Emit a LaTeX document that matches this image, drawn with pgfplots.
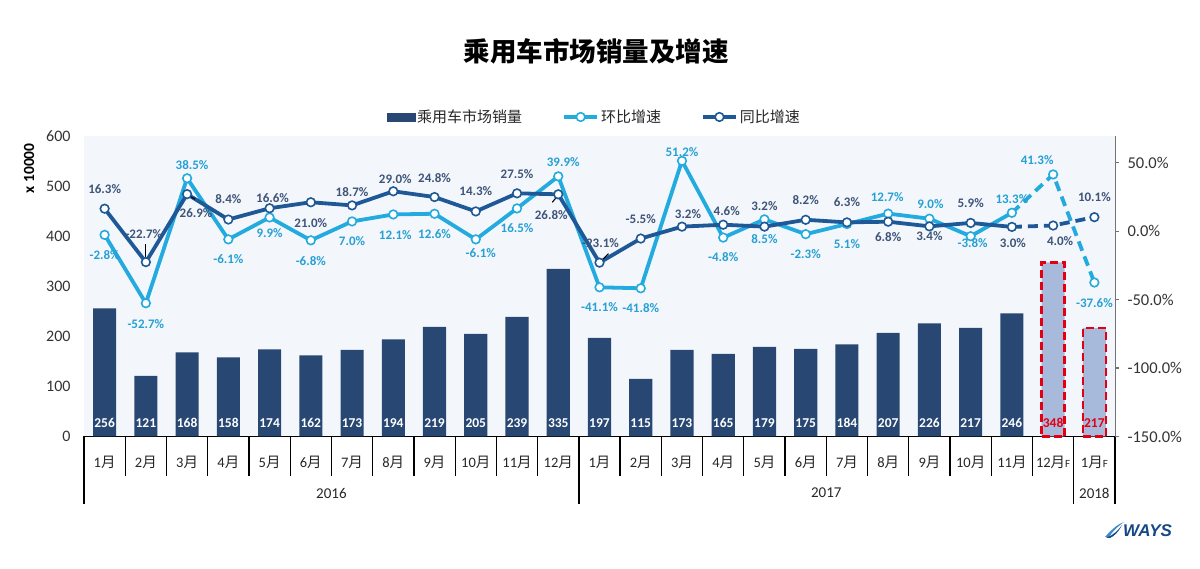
\documentclass[border=0pt]{standalone}
\usepackage{pgfplots}
\pgfplotsset{compat=1.18}
\usepackage{pgfplotstable}
\usepackage{fontspec}
\setmainfont{Carlito}
\newfontfamily\cjk{Noto Sans CJK SC}
\newfontfamily\logofont{Liberation Sans}
\definecolor{navy}{RGB}{40,72,115}
\definecolor{cyanl}{RGB}{35,170,222}
\definecolor{darkl}{RGB}{30,88,150}
\definecolor{cyant}{RGB}{38,160,212}
\definecolor{darkt}{RGB}{62,84,120}
\definecolor{bgc}{RGB}{243,247,252}
\definecolor{fcst}{RGB}{168,186,220}
\definecolor{redd}{RGB}{228,0,18}
\definecolor{logoc}{RGB}{22,72,135}
\definecolor{logoc2}{RGB}{60,140,200}
\newcommand{\m}[1]{#1{\cjk 月}}
\newcommand{\FF}{{\fontsize{11}{11}\selectfont F}}

\pgfplotstableread{
x v
0 256
1 121
2 168
3 158
4 174
5 162
6 173
7 194
8 219
9 205
10 239
11 335
12 197
13 115
14 173
15 165
16 179
17 175
18 184
19 207
20 226
21 217
22 246
}\sales
\pgfplotstableread{
x v
23 348
24 217
}\fsales

\pgfplotstableread{
x y lab dx dy
0 -2.8 -2.8 0 -20.6
1 -52.7 -52.7 0 -20.5
2 38.5 38.5 5 13
3 -6.1 -6.1 0 -20
4 9.9 9.9 0 -15.3
5 -6.8 -6.8 0 -20.7
6 7.0 7.0 0 -20
7 12.1 12.1 2 -20.3
8 12.6 12.6 0 -20.3
9 -6.1 -6.1 5 -13.3
10 16.5 16.5 0 -19.6
11 39.9 39.9 5 14.3
12 -41.1 -41.1 0 -19.7
13 -41.8 -41.8 0 -19.7
14 51.2 51.2 0 8.9
15 -4.8 -4.8 0 -19.4
16 8.5 8.5 0 -20
17 -2.3 -2.3 0 -19.8
18 5.1 5.1 0 -19.7
19 12.7 12.7 -1 16.6
20 9.0 9.0 1 15
21 -3.8 -3.8 2 -6.8
22 13.3 13.3 0 14.1
23 41.3 41.3 -16 14
24 -37.6 -37.6 0 -20.5
}\hb

\pgfplotstableread{
x y lab dx dy
0 16.3 16.3 0 20
1 -22.7 -22.7 -2 28.4
2 26.9 26.9 9 -18.9
3 8.4 8.4 0 20
4 16.6 16.6 3 10.3
5 21.0 21.0 0 -20.5
6 18.7 18.7 0 13.4
7 29.0 29.0 2 11.9
8 24.8 24.8 0 19.3
9 14.3 14.3 0 20
10 27.5 27.5 0 19.6
11 26.8 26.8 -7 -20.4
12 -23.1 -23.1 1 19.9
13 -5.5 -5.5 0 19.8
14 3.2 3.2 6 12.9
15 4.6 4.6 3.5 13.3
16 3.2 3.2 0 20.2
17 8.2 8.2 0 20
18 6.3 6.3 0 20.3
19 6.8 6.8 0 -15.3
20 3.4 3.4 0 -9.7
21 5.9 5.9 0 19.9
22 3.0 3.0 1 -16
23 4.0 4.0 7 -15.5
24 10.1 10.1 0 20.2
}\tb

\begin{document}
\begin{tikzpicture}
\useasboundingbox (0pt,0pt) rectangle (1200pt,569pt);
\node[font=\cjk\bfseries\fontsize{26.5}{28}\selectfont] at (596pt,517.5pt) {乘用车市场销量及增速};
\node[rotate=90, font=\bfseries\fontsize{15.5}{16}\selectfont] at (29pt,400.7pt) {x 10000};

\begin{axis}[
  at={(84pt,132.5pt)}, anchor=south west,
  width=1031pt, height=300pt, scale only axis,
  xmin=-0.5, xmax=24.5, ymin=0, ymax=600,
  axis background/.style={fill=bgc},
  axis x line*=bottom, axis y line*=left,
  x axis line style={-, line width=1.3pt, black},
  y axis line style={draw=none},
  tick align=outside,
  major tick length=0pt,
  ytick={0,100,...,600},
  ytick style={draw=none},
  yticklabel style={font=\fontsize{16}{16}\selectfont, text=black!80, xshift=-10pt},
  /pgf/number format/assume math mode=true,
  xtick={0,...,24},
  xticklabels={\m1,\m2,\m3,\m4,\m5,\m6,\m7,\m8,\m9,\m{10},\m{11},\m{12},\m1,\m2,\m3,\m4,\m5,\m6,\m7,\m8,\m9,\m{10},\m{11},\m{12}\FF,\m1\FF},
  major x tick style={draw=none},
  minor xtick={0.5,1.5,...,23.5},
  minor tick length=40pt,
  minor x tick style={line width=1.3pt, black},
  xticklabel style={font=\fontsize{14.5}{15}\selectfont, text=black!85, anchor=center, yshift=-25.5pt},
  clip=false,
]
\addplot[ybar, bar width=0.56, bar shift=0pt, fill=navy, draw=none] table[x=x,y=v]{\sales};
\addplot[ybar, bar width=0.56, bar shift=0pt, fill=fcst, draw=redd, line width=2.6pt, dash pattern=on 8pt off 4pt] table[x=x,y=v]{\fsales};
\addplot[only marks, mark=text, text mark={}, nodes near coords, point meta=explicit symbolic,
  every node near coord/.append style={anchor=base, yshift=9pt, text=white, font=\bfseries\fontsize{13.5}{14}\selectfont, inner sep=0pt}]
  table[x=x, y expr=0, meta=v]{\sales};
\addplot[only marks, mark=text, text mark={}, nodes near coords, point meta=explicit symbolic,
  every node near coord/.append style={anchor=base, yshift=9pt, text=redd, font=\bfseries\fontsize{13.5}{14}\selectfont, inner sep=0pt}]
  table[x=x, y expr=0, meta=v]{\fsales};
\draw[line width=1.3pt] (axis cs:-0.5,0) -- ++(0pt,-68pt);
\draw[line width=1.3pt] (axis cs:11.5,0) -- ++(0pt,-68pt);
\draw[line width=1.3pt] (axis cs:23.5,0) -- ++(0pt,-68pt);
\draw[line width=1.3pt] (axis cs:24.5,0) -- ++(0pt,-68pt);
\node[font=\fontsize{15}{15}\selectfont, text=black!85] at ([yshift=-56.5pt]axis cs:5.5,0) {2016};
\node[font=\fontsize{15}{15}\selectfont, text=black!85] at ([yshift=-56.5pt]axis cs:17.5,0) {2017};
\node[font=\fontsize{15}{15}\selectfont, text=black!85] at ([yshift=-56.5pt]axis cs:24,0) {2018};
\end{axis}

\begin{axis}[
  at={(84pt,132.5pt)}, anchor=south west,
  width=1031pt, height=300pt, scale only axis,
  xmin=-0.5, xmax=24.5, ymin=-150, ymax=69,
  hide x axis,
  axis y line*=right,
  y axis line style={-, line width=1pt, black!55},
  ytick={-150,-100,-50,0,50},
  yticklabel={\pgfmathprintnumber[fixed,fixed zerofill,precision=1]{\tick}\%},
  tick align=outside, major tick length=4pt,
  ytick style={black!55, line width=1pt},
  yticklabel style={font=\fontsize{16.5}{17}\selectfont, text=black!80, xshift=5pt},
  /pgf/number format/assume math mode=true,
  clip=false,
  legend style={at={(0.495,1.065)}, anchor=center, draw=none, fill=none,
    font=\cjk\fontsize{15}{15}\selectfont, text=black!85,
    /tikz/every even column/.append style={column sep=38pt}},
  legend columns=3,
  legend cell align=left,
]
\addlegendimage{legend image code/.code={\fill[navy] (0pt,-4pt) rectangle (28pt,4pt);}}
\addlegendentry{乘用车市场销量}
\addlegendimage{legend image code/.code={\draw[cyanl, line width=3.8pt] (0pt,0pt) -- (33pt,0pt); \draw[cyanl, fill=white, line width=1.6pt] (16.5pt,0pt) circle (4.3pt);}}
\addlegendentry{环比增速}
\addlegendimage{legend image code/.code={\draw[darkl, line width=3.8pt] (0pt,0pt) -- (33pt,0pt); \draw[darkl, fill=white, line width=1.6pt] (16.5pt,0pt) circle (4.3pt);}}
\addlegendentry{同比增速}

\addplot[cyanl, line width=3.8pt, line join=round, forget plot, restrict x to domain=0:22] table[x=x,y=y]{\hb};
\addplot[cyanl, line width=3.8pt, line join=round, forget plot, restrict x to domain=22:24, dash pattern=on 10pt off 6pt] table[x=x,y=y]{\hb};
\addplot[only marks, mark=*, mark size=4.3pt, mark options={fill=white, draw=cyanl, line width=1.6pt}, forget plot] table[x=x,y=y]{\hb};
\addplot[darkl, line width=3.8pt, line join=round, forget plot, restrict x to domain=0:22] table[x=x,y=y]{\tb};
\addplot[darkl, line width=3.8pt, line join=round, forget plot, restrict x to domain=22:24, dash pattern=on 10pt off 6pt] table[x=x,y=y]{\tb};
\addplot[only marks, mark=*, mark size=4.3pt, mark options={fill=white, draw=darkl, line width=1.6pt}, forget plot] table[x=x,y=y]{\tb};

% leader lines
\draw[black, line width=1.1pt] ([yshift=4pt]axis cs:1,-22.7) -- ([yshift=18pt]axis cs:1,-22.7);
\draw[black, line width=1.1pt] ([xshift=1pt,yshift=-1pt]axis cs:2,26.9) -- ([xshift=8pt,yshift=-5pt]axis cs:2,26.9);
\draw[black, line width=1.1pt] ([xshift=-1pt,yshift=-2pt]axis cs:11,26.8) -- ([xshift=-6pt,yshift=-8pt]axis cs:11,26.8);
\draw[black, line width=1.1pt] ([xshift=2pt,yshift=2pt]axis cs:12,-23.1) -- ([xshift=9pt,yshift=9pt]axis cs:12,-23.1);

\addplot[only marks, mark=text, text mark={}, forget plot,
  nodes near coords={\pgfplotspointmeta\%}, point meta=explicit symbolic,
  visualization depends on={\thisrow{dx}\as\myDx},
  visualization depends on={\thisrow{dy}\as\myDy},
  every node near coord/.append style={anchor=center, xshift=\myDx pt, yshift=\myDy pt, text=cyant, font=\bfseries\fontsize{13}{13}\selectfont, inner sep=0pt}]
  table[x=x,y=y,meta=lab]{\hb};
\addplot[only marks, mark=text, text mark={}, forget plot,
  nodes near coords={\pgfplotspointmeta\%}, point meta=explicit symbolic,
  visualization depends on={\thisrow{dx}\as\myDx},
  visualization depends on={\thisrow{dy}\as\myDy},
  every node near coord/.append style={anchor=center, xshift=\myDx pt, yshift=\myDy pt, text=darkt, font=\bfseries\fontsize{13}{13}\selectfont, inner sep=0pt}]
  table[x=x,y=y,meta=lab]{\tb};
\end{axis}

\fill[logoc2] (1105pt,32pt) .. controls (1112pt,40pt) and (1118pt,45pt) .. (1124pt,47pt) .. controls (1117pt,42pt) and (1112pt,37pt) .. (1109pt,32pt) -- cycle;
\fill[logoc] (1106pt,31pt) .. controls (1113pt,34pt) and (1118pt,38pt) .. (1122pt,44pt) .. controls (1118pt,36pt) and (1114pt,33pt) .. (1110pt,31pt) -- cycle;
\node[anchor=west, inner sep=0pt, font=\logofont\bfseries\itshape\fontsize{17}{17}\selectfont, text=logoc] at (1123pt,38pt) {WAYS};
\end{tikzpicture}
\end{document}
